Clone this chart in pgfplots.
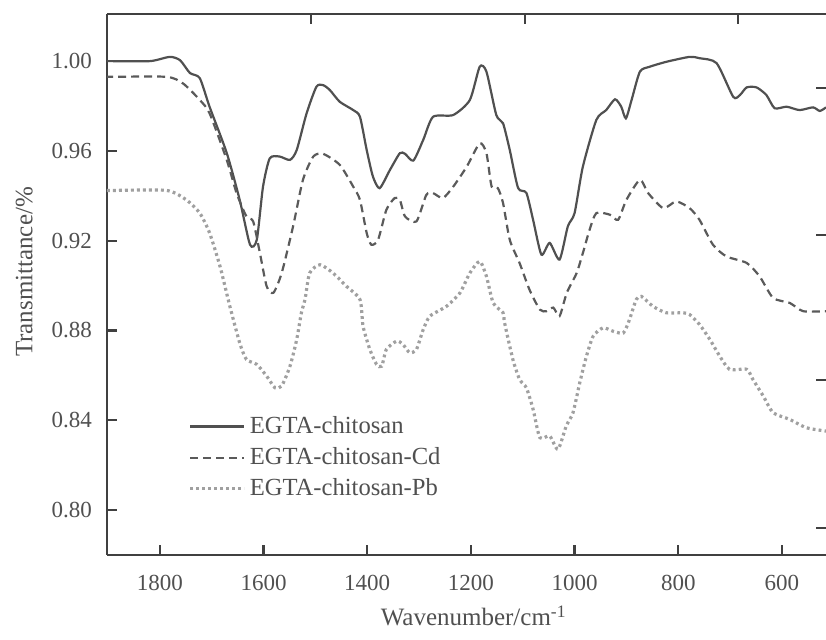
\documentclass[border=0pt]{standalone}
\usepackage{fontspec}
\setmainfont{Liberation Serif}
\usepackage{pgfplots}
\pgfplotsset{compat=1.18}
\definecolor{spine}{HTML}{404040}
\definecolor{cA}{HTML}{505050}
\definecolor{cB}{HTML}{5A5A5A}
\definecolor{cC}{HTML}{A0A0A0}
\begin{document}
\begin{tikzpicture}
\begin{axis}[
  name=ax,
  scale only axis, width=359.5pt, height=270.5pt,
  x dir=reverse,
  xmin=515, xmax=1902, ymin=0.78, ymax=1.021,
  axis x line*=bottom, axis y line*=left,
  x axis line style={-}, y axis line style={-},
  axis line style={draw=spine, line width=1.2pt},
  tick align=inside,
  major tick length=5pt,
  tick style={draw=spine, line width=1.1pt},
  xtick={1800,1600,1400,1200,1000,800,600},
  ytick={0.80,0.84,0.88,0.92,0.96,1.00},
  /pgf/number format/1000 sep={},
  /pgf/number format/assume math mode=true,
  xticklabel style={yshift=-6.5pt, font=\fontsize{11.5}{13}\selectfont, text=cA},
  yticklabels={0.80,0.84,0.88,0.92,0.96,1.00},
  yticklabel style={xshift=-4pt, font=\fontsize{11.5}{13}\selectfont, text=cA},
  xlabel={Wavenumber/cm\textsuperscript{-1}},
  ylabel={Transmittance/\%},
  every axis x label/.style={at={(axis description cs:0.51,-0.131)}, anchor=base, font=\fontsize{12.5}{14}\selectfont, text=cA},
  every axis y label/.style={at={(axis description cs:-0.115,0.523)}, rotate=90, anchor=center, font=\fontsize{12.5}{14}\selectfont, text=cA},
  legend cell align=left,
  legend style={draw=none, fill=none, at={(axis description cs:0.113,0.264)}, anchor=north west,
    font=\fontsize{12.3}{14}\selectfont, text=cA, row sep=1.5pt, inner sep=0pt},
  legend image code/.code={\draw[#1] (0pt,0pt) -- (27pt,0pt);},
]
\addplot[cA, line width=1.1pt, smooth, tension=0.4] coordinates {
(1902,1.000) (1896,1.000) (1819,1.000) (1781,1.0019) (1761,1.0004) (1742,0.9947) (1723,0.9924) (1704,0.9796) (1671,0.9591) (1646,0.9382) (1626,0.9182) (1613,0.9204) (1601,0.9441) (1588,0.9567) (1569,0.9575) (1549,0.956) (1536,0.9604) (1517,0.9767) (1498,0.9886) (1485,0.9893) (1472,0.9871) (1453,0.9819) (1427,0.9782) (1414,0.9752) (1401,0.9604) (1389,0.9486) (1376,0.9434) (1356,0.9516) (1337,0.959) (1327,0.9587) (1311,0.9557) (1292,0.9649) (1273,0.9752) (1234,0.976) (1202,0.9827) (1183,0.9975) (1170,0.9953) (1151,0.976) (1138,0.9723) (1125,0.9604) (1109,0.9435) (1093,0.9413) (1080,0.9293) (1064,0.9138) (1048,0.919) (1029,0.9116) (1013,0.9264) (1000,0.9323) (984,0.953) (958,0.9738) (939,0.9782) (922,0.983) (910,0.9797) (901,0.9745) (890,0.9827) (874,0.9953) (855,0.9975) (823,0.9997) (778,1.0019) (759,1.0013) (726,0.9991) (694,0.9841) (681,0.9849) (668,0.9883) (649,0.9883) (630,0.9849) (614,0.979) (591,0.9797) (566,0.9782) (540,0.9794) (527,0.9778) (515,0.9794)
};
\addlegendentry{EGTA-chitosan}
\addplot[cB, line width=1.1pt, dash pattern=on 4pt off 2.5pt, smooth, tension=0.4] coordinates {
(1902,0.993) (1896,0.993) (1787,0.993) (1755,0.990) (1723,0.9827) (1704,0.9767) (1671,0.956) (1652,0.9412) (1633,0.9308) (1620,0.9286) (1607,0.9145) (1594,0.8997) (1581,0.8968) (1565,0.9056) (1543,0.9264) (1524,0.9471) (1504,0.9575) (1485,0.9587) (1453,0.9538) (1427,0.9441) (1414,0.9382) (1401,0.9234) (1392,0.9182) (1379,0.9204) (1363,0.9338) (1347,0.939) (1337,0.9382) (1327,0.9308) (1305,0.9286) (1286,0.9404) (1273,0.9412) (1254,0.939) (1234,0.9441) (1208,0.953) (1183,0.9634) (1170,0.959) (1160,0.9441) (1148,0.9434) (1138,0.9368) (1125,0.9204) (1106,0.910) (1087,0.8982) (1067,0.8893) (1054,0.8886) (1041,0.8902) (1029,0.8864) (1015,0.8968) (996,0.9056) (984,0.9145) (971,0.9249) (958,0.9323) (932,0.9316) (916,0.9293) (900,0.9382) (874,0.9471) (858,0.9412) (829,0.9345) (804,0.9375) (778,0.9345) (759,0.9293) (733,0.9182) (707,0.913) (668,0.9101) (643,0.9041) (617,0.8945) (585,0.8923) (559,0.8886) (515,0.8886)
};
\addlegendentry{EGTA-chitosan-Cd}
\addplot[cC, line width=1.6pt, dash pattern=on 1.4pt off 1.6pt, smooth, tension=0.4] coordinates {
(1902,0.9424) (1890,0.9424) (1787,0.9424) (1749,0.9382) (1723,0.9323) (1704,0.9234) (1684,0.9086) (1665,0.8908) (1646,0.8745) (1633,0.8671) (1613,0.8649) (1594,0.8597) (1578,0.8545) (1565,0.8553) (1549,0.8641) (1536,0.876) (1527,0.8879) (1520,0.8938) (1511,0.9056) (1491,0.9093) (1466,0.9056) (1440,0.8997) (1414,0.8938) (1408,0.8819) (1395,0.8716) (1382,0.8649) (1372,0.8641) (1363,0.8716) (1343,0.8753) (1331,0.8738) (1318,0.8701) (1305,0.8716) (1292,0.8804) (1279,0.8864) (1247,0.8908) (1221,0.8968) (1202,0.9056) (1183,0.9108) (1170,0.9041) (1157,0.8923) (1138,0.8879) (1135,0.8834) (1119,0.8671) (1106,0.8582) (1093,0.8545) (1080,0.8449) (1067,0.8323) (1048,0.833) (1032,0.8271) (1016,0.8375) (1003,0.8434) (990,0.8567) (977,0.8686) (964,0.8775) (945,0.8812) (926,0.8797) (906,0.8789) (894,0.8849) (881,0.8938) (871,0.8952) (849,0.8908) (823,0.8879) (791,0.8879) (778,0.8871) (759,0.8827) (739,0.876) (720,0.8686) (701,0.8627) (668,0.8627) (656,0.8582) (636,0.8508) (617,0.8434) (585,0.8404) (553,0.8367) (515,0.8352)
};
\addlegendentry{EGTA-chitosan-Pb}
\end{axis}
\begin{axis}[
  scale only axis, width=359.5pt, height=270.5pt,
  x dir=reverse,
  xmin=515, xmax=1902, ymin=0.78, ymax=1.021,
  axis x line*=top, axis y line*=right,
  x axis line style={-, draw=spine, line width=1.2pt},
  y axis line style={-, draw=none},
  tick align=inside, major tick length=5pt,
  tick style={draw=spine, line width=1.1pt},
  xtick={1509,1096,685}, ytick={0.988,0.9227,0.858,0.792},
  xticklabels={}, yticklabels={},
]
\end{axis}
\draw[spine, line width=1.2pt] (ax.north west) -- (ax.north east);
\pgfresetboundingbox
\path ([shift={(-53.5pt,-42.5pt)}]ax.south west) rectangle ([shift={(0pt,7pt)}]ax.north east);
\end{tikzpicture}
\end{document}
